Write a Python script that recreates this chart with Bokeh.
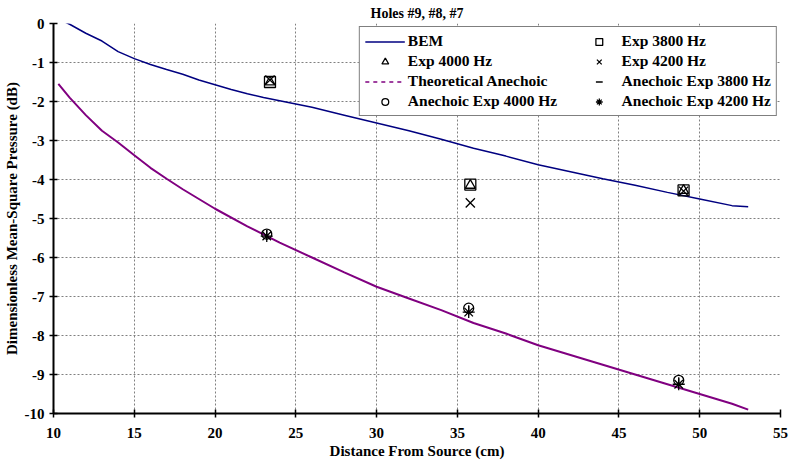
import math
from bokeh.plotting import figure
from bokeh.models import Range1d, Legend, LegendItem, FixedTicker, Title, PrintfTickFormatter
from bokeh.embed import file_html
from bokeh.resources import INLINE

# ---- data ----
bem_x = [10.3, 11.0, 12.0, 13.0, 14.0, 15.0, 16.0, 17.0, 18.0, 19.0, 20.0, 21.0, 22.0, 23.0, 24.0,
         26.0, 28.0, 30.0, 32.0, 34.0, 36.0, 38.0, 40.0, 42.0, 44.0, 46.0, 48.0, 50.0, 52.0, 53.0]
bem_y = [0.12, -0.02, -0.25, -0.45, -0.72, -0.9, -1.05, -1.18, -1.3, -1.45, -1.57, -1.69, -1.8, -1.9, -1.98,
         -2.15, -2.35, -2.55, -2.75, -2.97, -3.2, -3.4, -3.62, -3.8, -3.98, -4.15, -4.33, -4.5, -4.67, -4.7]

anech_x = [10.3, 11.0, 12.0, 13.0, 14.0, 15.0, 16.0, 17.0, 18.0, 20.0, 22.0, 24.0, 26.0, 28.0, 30.0,
           32.0, 34.0, 36.0, 38.0, 40.0, 42.0, 44.0, 46.0, 48.0, 50.0, 52.0, 53.0]
anech_y = [-1.55, -1.9, -2.35, -2.75, -3.05, -3.38, -3.7, -3.98, -4.25, -4.75, -5.2, -5.62, -6.0, -6.38, -6.75,
           -7.05, -7.35, -7.68, -7.95, -8.25, -8.5, -8.75, -9.0, -9.25, -9.5, -9.75, -9.9]

exp_x = [23.4, 35.8, 49.0]
exp_3800 = [-1.5, -4.13, -4.28]
exp_4000 = [-1.5, -4.15, -4.28]
exp_4200 = [-1.45, -4.6, -4.3]

an_x = [23.2, 35.7, 48.7]
an_3800 = [-5.42, -7.35, -9.2]
an_4000 = [-5.4, -7.3, -9.15]
an_4200 = [-5.45, -7.4, -9.25]

x_ticks = [10, 15, 20, 25, 30, 35, 40, 45, 50, 55]
y_ticks = [0, -1, -2, -3, -4, -5, -6, -7, -8, -9, -10]

FONT = "Liberation Serif"
NAVY = "#000080"
PURPLE = "#800080"

p = figure(width=792, height=464, output_backend="svg", toolbar_location=None,
           x_range=Range1d(10, 55), y_range=Range1d(-10, 0),
           min_border_left=52, min_border_right=12, min_border_top=22, min_border_bottom=51)
p.outline_line_color = None

p.title = Title(text="Holes #9, #8, #7", align="center", text_font=FONT,
                text_font_size="14px", text_font_style="bold", text_color="black",
                offset=0, standoff=6)

for ax in (p.xaxis[0], p.yaxis[0]):
    ax.axis_line_color = "black"
    ax.axis_line_width = 2
    ax.major_tick_line_color = "black"
    ax.major_tick_line_width = 1.5
    ax.major_tick_in = 4
    ax.major_tick_out = 4
    ax.minor_tick_line_color = None
    ax.major_label_text_font = FONT
    ax.major_label_text_font_size = "15px"
    ax.major_label_text_font_style = "bold"
    ax.major_label_text_color = "black"
    ax.axis_label_text_font = FONT
    ax.axis_label_text_font_size = "15px"
    ax.axis_label_text_font_style = "bold"
    ax.axis_label_text_color = "black"
    ax.formatter = PrintfTickFormatter(format="%d")

p.xaxis.ticker = FixedTicker(ticks=x_ticks)
p.yaxis.ticker = FixedTicker(ticks=y_ticks)
p.xaxis.axis_label = "Distance From Source (cm)"
p.yaxis.axis_label = "Dimensionless Mean-Square Pressure (dB)"
p.xaxis.major_label_standoff = 10
p.yaxis.major_label_standoff = 5
p.xaxis.axis_label_standoff = 2
p.yaxis.axis_label_standoff = 2

for g in (p.xgrid[0], p.ygrid[0]):
    g.grid_line_color = "#808080"
    g.grid_line_dash = "2 2"
    g.grid_line_width = 1

r_bem = p.line(bem_x, bem_y, line_color=NAVY, line_width=1.5)
r_an = p.line(anech_x, anech_y, line_color=PURPLE, line_width=2)
# legend-only dashed sample for the theoretical anechoic curve (kept outside the view)
r_an_leg = p.line(x=[100, 101], y=[100, 100], line_color=PURPLE, line_width=1.5, line_dash="4 4")

mk = dict(fill_color=None, line_color="black", line_width=1.3)
r_e38 = p.scatter(exp_x, exp_3800, marker="square", size=11, **mk)
r_e40 = p.scatter(exp_x, exp_4000, marker="triangle", size=10, **mk)
r_e42 = p.scatter(exp_x, exp_4200, marker="x", size=13, **mk)
r_a38 = p.scatter(an_x, an_3800, marker="dash", size=10, angle=math.pi / 2, **mk)
r_a40 = p.scatter(an_x, an_4000, marker="circle", size=10, **mk)
r_a42 = p.scatter(an_x, an_4200, marker="asterisk", size=12, **mk)

NB = "\u00a0" * 5
legend = Legend(items=[
    LegendItem(label="BEM", renderers=[r_bem]),
    LegendItem(label="Exp 4000 Hz", renderers=[r_e40]),
    LegendItem(label="Theoretical Anechoic", renderers=[r_an_leg]),
    LegendItem(label="Anechoic Exp 4000 Hz" + NB, renderers=[r_a40]),
    LegendItem(label="Exp 3800 Hz", renderers=[r_e38]),
    LegendItem(label="Exp 4200 Hz", renderers=[r_e42]),
    LegendItem(label="Anechoic Exp 3800 Hz", renderers=[r_a38]),
    LegendItem(label="Anechoic Exp 4200 Hz", renderers=[r_a42]),
], location="top_right", ncols=2)
legend.label_text_font = FONT
legend.label_text_font_size = "15.5px"
legend.label_text_font_style = "bold"
legend.label_text_color = "black"
legend.border_line_color = "black"
legend.border_line_width = 1.5
legend.background_fill_alpha = 1
legend.glyph_width = 40
legend.glyph_height = 17
legend.label_height = 18
legend.spacing = 2
legend.padding = 5
legend.margin = 3
legend.label_standoff = 3
p.add_layout(legend)

open("out.html", "w").write(file_html(p, INLINE))
